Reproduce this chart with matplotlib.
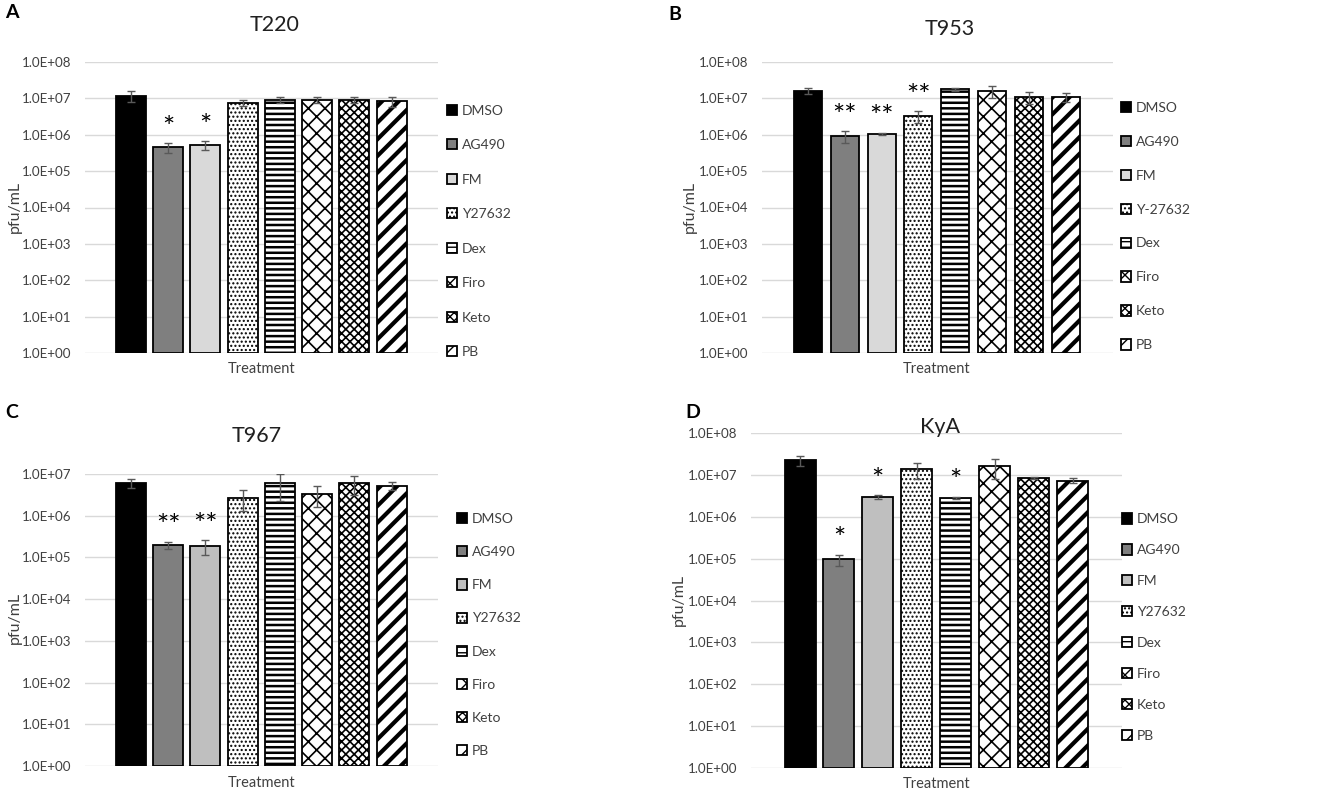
import numpy as np
import matplotlib
matplotlib.use('Agg')
import matplotlib.pyplot as plt
from matplotlib.ticker import FixedLocator, FixedFormatter, NullLocator

plt.rcParams['font.family'] = ['Lato', 'DejaVu Sans']

# ---------------- data ----------------
treat_A = ['DMSO', 'AG490', 'FM', 'Y27632', 'Dex', 'Firo', 'Keto', 'PB']
treat_B = ['DMSO', 'AG490', 'FM', 'Y-27632', 'Dex', 'Firo', 'Keto', 'PB']
treat_C = ['DMSO', 'AG490', 'FM', 'Y27632', 'Dex', 'Firo', 'Keto', 'PB']
treat_D = ['DMSO', 'AG490', 'FM', 'Y27632', 'Dex', 'Firo', 'Keto', 'PB']

val_A = [1.18e7, 4.5e5, 5.2e5, 7.6e6, 9.2e6, 9.2e6, 9.2e6, 8.4e6]
err_A = [3.7e6, 1.3e5, 1.4e5, 1.4e6, 1.7e6, 1.7e6, 1.7e6, 2.5e6]
sig_A = ['', '*', '*', '', '', '', '', '']

val_B = [1.63e7, 9.2e5, 1.06e6, 3.3e6, 1.78e7, 1.6e7, 1.1e7, 1.1e7]
err_B = [3.2e6, 3.1e5, 0.9e5, 1.2e6, 1.7e6, 5.5e6, 4.0e6, 3.0e6]
sig_B = ['', '**', '**', '**', '', '', '', '']

val_C = [6.1e6, 1.98e5, 1.87e5, 2.7e6, 6.1e6, 3.4e6, 6.1e6, 5.3e6]
err_C = [1.6e6, 4.2e4, 7.3e4, 1.4e6, 3.9e6, 1.8e6, 3.0e6, 1.2e6]
sig_C = ['', '**', '**', '', '', '', '', '']

val_D = [2.25e7, 9.6e4, 3.0e6, 1.37e7, 2.86e6, 1.6e7, 8.6e6, 7.3e6]
err_D = [6.5e6, 2.9e4, 3.0e5, 5.7e6, 1.4e5, 8.2e6, 5.0e5, 1.0e6]
sig_D = ['', '*', '*', '', '*', '', '', '']

titles = ['T220', 'T953', 'T967', 'KyA']
letters = ['A', 'B', 'C', 'D']
ymax_exp = [8, 8, 7, 8]

# ---------------- styles ----------------
W, H = 1325, 799
fig = plt.figure(figsize=(W / 100, H / 100), dpi=100)

def fx(px):
    return px / W

def fy(py):
    return 1 - py / H

# axes boxes in pixels: left, right, top, bottom
boxes = [(85, 438, 62, 353), (762, 1113, 62, 353),
         (85, 438, 474, 766), (751, 1122, 433, 768)]
# first / last bar centres in pixels, bar width px
barpos = [(131, 391.5, 30), (808, 1065.5, 28), (131, 391.5, 30), (800, 1072.5, 31)]

fills = [
    ['black', '#7f7f7f', '#d9d9d9', 'white', 'white', 'white', 'white', 'white'],
    ['black', '#7f7f7f', '#d9d9d9', 'white', 'white', 'white', 'white', 'white'],
    ['black', '#7f7f7f', '#bfbfbf', 'white', 'white', 'white', 'white', 'white'],
    ['black', '#7f7f7f', '#bfbfbf', 'white', 'white', 'white', 'white', 'white'],
]
hatches = [None, None, None, '....', '---', 'xx', 'xxxx', '//']
hlw = [1, 1, 1, 1.0, 1.8, 1.2, 1.2, 3.0]

legend_pos = [(447, 231.5), (1121, 226.5), (457, 635), (1122, 627.5)]
legend_ls = [1.62, 1.58, 1.52, 1.36]

title_pos = [(275, 25), (950, 29), (257, 436), (940, 427)]
letter_pos = [(5, 12), (668, 14), (5, 412), (685, 412)]
ylab_pos = [(15, 207), (690, 207), (15, 618), (679, 600)]
xlab_pos = [(262, 369), (937, 369), (262, 783), (937, 784)]

datasets = [(treat_A, val_A, err_A, sig_A), (treat_B, val_B, err_B, sig_B),
            (treat_C, val_C, err_C, sig_C), (treat_D, val_D, err_D, sig_D)]

for k in range(4):
    treats, vals, errs, sigs = datasets[k]
    l, r, t, b = boxes[k]
    ax = fig.add_axes([fx(l), fy(b), fx(r - l), (b - t) / H])
    c0, c7, bw = barpos[k]
    sp = (c7 - c0) / 7
    ax.set_xlim((l - c0) / sp, (r - c0) / sp)
    ax.set_yscale('log')
    ax.set_ylim(1, 10 ** ymax_exp[k])
    x = np.arange(len(vals))
    handles = []
    for i in range(len(vals)):
        with plt.rc_context({'hatch.linewidth': hlw[i], 'hatch.color': 'black'}):
            bc = ax.bar(x[i], vals[i], width=bw / sp, bottom=1, color=fills[k][i],
                        edgecolor='black', linewidth=1.3, hatch=hatches[i],
                        label=treats[i], zorder=2)
        handles.append(bc)
    ax.errorbar(x, vals, yerr=errs, fmt='none', ecolor='#595959',
                elinewidth=1.0, capsize=3, capthick=1.0, zorder=3)
    for i, s in enumerate(sigs):
        if s:
            ax.annotate(s, xy=(x[i], vals[i] + errs[i]), xytext=(0, 1),
                        textcoords='offset points', ha='center', va='bottom',
                        fontsize=21, color='black', zorder=4)
    decs = list(range(0, ymax_exp[k] + 1))
    ax.yaxis.set_major_locator(FixedLocator([10.0 ** d for d in decs]))
    ax.yaxis.set_major_formatter(FixedFormatter(['1.0E+%02d' % d for d in decs]))
    ax.yaxis.set_minor_locator(NullLocator())
    ax.xaxis.set_major_locator(NullLocator())
    ax.tick_params(axis='y', length=0, pad=10, labelsize=9.6, labelcolor='#404040')
    ax.grid(axis='y', color='#d9d9d9', linewidth=1.0, zorder=0)
    ax.set_axisbelow(True)
    for sp_ in ax.spines.values():
        sp_.set_visible(False)

    lx, ly = legend_pos[k]
    fig.legend(handles=handles, labels=treats, loc='center left',
               bbox_to_anchor=(fx(lx), fy(ly)), frameon=False, fontsize=10,
               handlelength=0.75, handleheight=0.75, handletextpad=0.3,
               labelspacing=legend_ls[k], borderpad=0, borderaxespad=0,
               labelcolor='#404040')

    tx, ty = title_pos[k]
    fig.text(fx(tx), fy(ty), titles[k], ha='center', va='center', fontsize=15.5,
             color='#202020')
    lx_, ly_ = letter_pos[k]
    fig.text(fx(lx_), fy(ly_), letters[k], ha='left', va='center', fontsize=14,
             fontweight='bold', color='black')
    yx, yy = ylab_pos[k]
    fig.text(fx(yx), fy(yy), 'pfu/mL', ha='center', va='center', rotation=90,
             fontsize=11.5, color='#404040')
    xx, xy = xlab_pos[k]
    fig.text(fx(xx), fy(xy), 'Treatment', ha='center', va='center',
             fontsize=10.5, color='#404040')

fig.savefig('out.png', dpi=100)
